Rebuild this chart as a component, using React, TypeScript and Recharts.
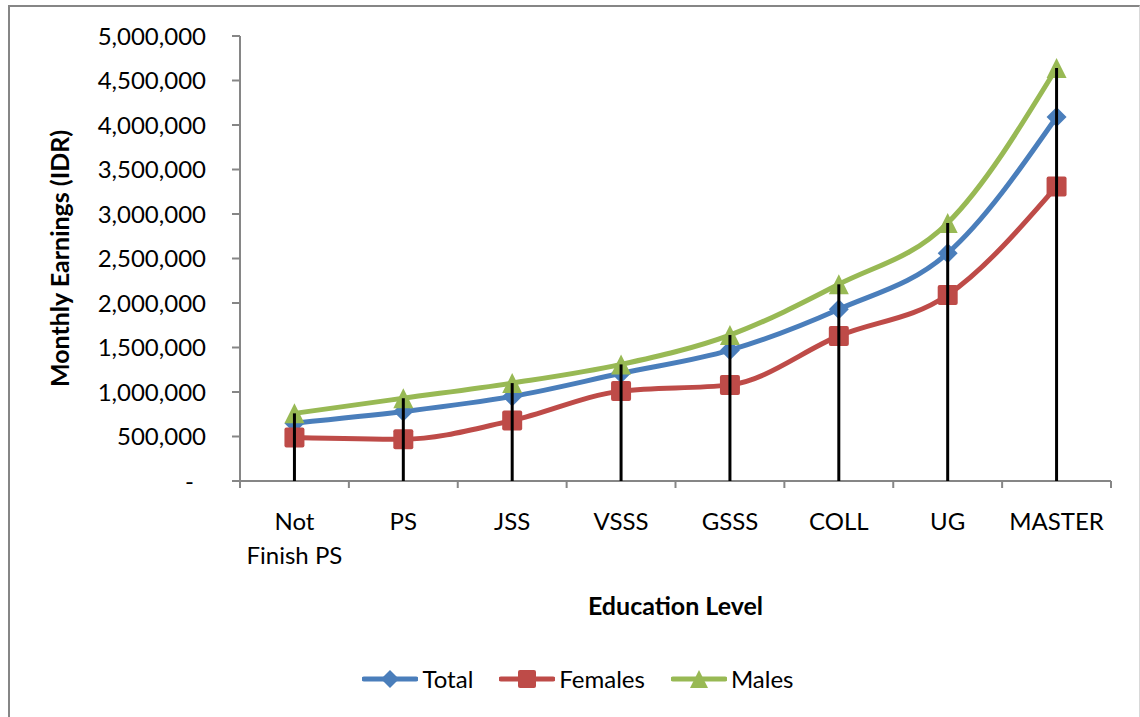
import React from 'react';
import { ComposedChart, Line, XAxis, YAxis, Legend } from 'recharts';

const levels = ['Not\nFinish PS', 'PS', 'JSS', 'VSSS', 'GSSS', 'COLL', 'UG', 'MASTER'];
const total = [650000, 780000, 950000, 1210000, 1470000, 1930000, 2560000, 4090000];
const females = [490000, 470000, 680000, 1010000, 1080000, 1630000, 2090000, 3310000];
const males = [760000, 930000, 1100000, 1310000, 1640000, 2210000, 2900000, 4640000];
const yTicks = [0, 500000, 1000000, 1500000, 2000000, 2500000, 3000000, 3500000, 4000000, 4500000, 5000000];

const data = levels.map((level, i) => ({
  level,
  Total: total[i],
  Females: females[i],
  Males: males[i],
}));

const W = 1140;
const H = 717;
const margin = { top: 36, right: 29, bottom: 0, left: 0 };
const Y_AXIS_W = 240;
const X_AXIS_H = 236;
const PLOT_W = W - margin.left - margin.right - Y_AXIS_W;
const PLOT_BOTTOM = H - margin.bottom - X_AXIS_H;
const BAND = PLOT_W / levels.length;

const FONT = "Lato, 'Liberation Sans', sans-serif";
const GRAY = '#868686';
const BLUE = '#4A7EBB';
const RED = '#BE4B48';
const GREEN = '#98B954';

const diamond = (cx: number, cy: number, r: number, fill: string) => (
  <polygon points={`${cx},${cy - r} ${cx + r},${cy} ${cx},${cy + r} ${cx - r},${cy}`} fill={fill} />
);
const square = (cx: number, cy: number, r: number, fill: string) => (
  <rect x={cx - r} y={cy - r} width={r * 2} height={r * 2} rx={2} fill={fill} />
);
const triangle = (cx: number, cy: number, r: number, fill: string) => (
  <polygon points={`${cx},${cy - r} ${cx + r},${cy + r} ${cx - r},${cy + r}`} fill={fill} />
);

const markers: Record<string, (cx: number, cy: number, r: number, fill: string) => React.ReactElement> = {
  Total: diamond,
  Females: square,
  Males: triangle,
};

const makeDot = (name: string, color: string, r: number) => (props: any) => {
  const { cx, cy, index } = props;
  if (cx == null || cy == null) return <g key={`${name}-${index}`} />;
  return <g key={`${name}-${index}`}>{markers[name](cx, cy, r, color)}</g>;
};

// vertical drop line from the highest point down to the category axis
const dropLine = (props: any) => {
  const { cx, cy, index } = props;
  if (cx == null || cy == null) return <g key={`drop-${index}`} />;
  return <line key={`drop-${index}`} x1={cx} x2={cx} y1={cy} y2={PLOT_BOTTOM} stroke="#000" strokeWidth={3} />;
};

const YTick = (props: any) => {
  const { x, y, payload } = props;
  const v = payload.value as number;
  return (
    <text x={v === 0 ? x - 12 : x} y={y} dy="0.36em" textAnchor="end" fontSize={24} fill="#000" fontFamily={FONT}>
      {v === 0 ? '-' : v.toLocaleString('en-US')}
    </text>
  );
};

const XTick = (props: any) => {
  const { x, y, payload, index } = props;
  const lines = String(payload.value).split('\n');
  const left = x - BAND / 2;
  const right = x + BAND / 2;
  return (
    <g>
      <line x1={left} x2={left} y1={y} y2={y + 7} stroke={GRAY} strokeWidth={2} />
      {index === levels.length - 1 && <line x1={right} x2={right} y1={y} y2={y + 7} stroke={GRAY} strokeWidth={2} />}
      <text x={x} y={y + 49} textAnchor="middle" fontSize={24} fill="#000" fontFamily={FONT}>
        {lines.map((l, i) => (
          <tspan key={i} x={x} dy={i === 0 ? 0 : 34}>
            {l}
          </tspan>
        ))}
      </text>
    </g>
  );
};

const YTitle = (props: any) => {
  const vb = props.viewBox;
  const cy = vb.y + vb.height / 2;
  return (
    <text
      transform={`translate(60, ${cy}) rotate(-90)`}
      dy="0.36em"
      textAnchor="middle"
      fontSize={25}
      fontWeight="bold"
      fill="#000"
      fontFamily={FONT}
    >
      Monthly Earnings (IDR)
    </text>
  );
};

const XTitle = (props: any) => {
  const vb = props.viewBox;
  return (
    <text x={vb.x + vb.width / 2} y={vb.y + 134} textAnchor="middle" fontSize={25} fontWeight="bold" fill="#000" fontFamily={FONT}>
      Education Level
    </text>
  );
};

const legendItems = [
  { name: 'Total', color: BLUE },
  { name: 'Females', color: RED },
  { name: 'Males', color: GREEN },
];

const LegendContent = () => (
  <div style={{ display: 'flex', justifyContent: 'center', alignItems: 'center', gap: 26, marginLeft: 16 }}>
    {legendItems.map((item) => (
      <div key={item.name} style={{ display: 'flex', alignItems: 'center' }}>
        <svg width={56} height={22}>
          <line x1={2} x2={54} y1={11} y2={11} stroke={item.color} strokeWidth={5} strokeLinecap="round" />
          {markers[item.name](28, 11, 9, item.color)}
        </svg>
        <span style={{ fontSize: 24, fontFamily: FONT, color: '#000', marginLeft: 4 }}>{item.name}</span>
      </div>
    ))}
  </div>
);

export default function App() {
  return (
    <div style={{ position: 'absolute', left: 0, top: 0, width: W, height: H, background: '#fff', overflow: 'hidden' }}>
      <div
        style={{
          position: 'absolute',
          left: 8,
          top: 5,
          width: 1129,
          height: 730,
          borderTop: `2px solid ${GRAY}`,
          borderLeft: `2px solid ${GRAY}`,
          borderRight: '1px solid #d9d9d9',
        }}
      />
      <div style={{ position: 'absolute', left: 0, top: 0 }}>
        <ComposedChart width={W} height={H} data={data} margin={margin}>
          <XAxis
            dataKey="level"
            height={X_AXIS_H}
            interval={0}
            padding={{ left: BAND / 2, right: BAND / 2 }}
            tickSize={0}
            tickMargin={0}
            tickLine={false}
            axisLine={{ stroke: GRAY, strokeWidth: 2 }}
            tick={<XTick />}
            label={{ content: <XTitle /> }}
          />
          <YAxis
            width={Y_AXIS_W}
            domain={[0, 5000000]}
            ticks={yTicks}
            interval={0}
            tickSize={8}
            tickMargin={26}
            axisLine={{ stroke: GRAY, strokeWidth: 2 }}
            tickLine={{ stroke: GRAY, strokeWidth: 2 }}
            tick={<YTick />}
            label={{ content: <YTitle /> }}
          />
          <Legend
            verticalAlign="middle"
            align="center"
            layout="horizontal"
            wrapperStyle={{ top: 664, left: 0, width: W }}
            content={<LegendContent />}
          />
          <Line
            type="monotone"
            dataKey="Total"
            stroke={BLUE}
            strokeWidth={5}
            dot={makeDot('Total', BLUE, 10)}
            activeDot={false}
            isAnimationActive={false}
          />
          <Line
            type="monotone"
            dataKey="Females"
            stroke={RED}
            strokeWidth={5}
            dot={makeDot('Females', RED, 10)}
            activeDot={false}
            isAnimationActive={false}
          />
          <Line
            type="monotone"
            dataKey="Males"
            stroke={GREEN}
            strokeWidth={5}
            dot={makeDot('Males', GREEN, 10)}
            activeDot={false}
            isAnimationActive={false}
          />
          <Line
            dataKey="Males"
            stroke="none"
            dot={dropLine}
            activeDot={false}
            legendType="none"
            isAnimationActive={false}
          />
        </ComposedChart>
      </div>
    </div>
  );
}
